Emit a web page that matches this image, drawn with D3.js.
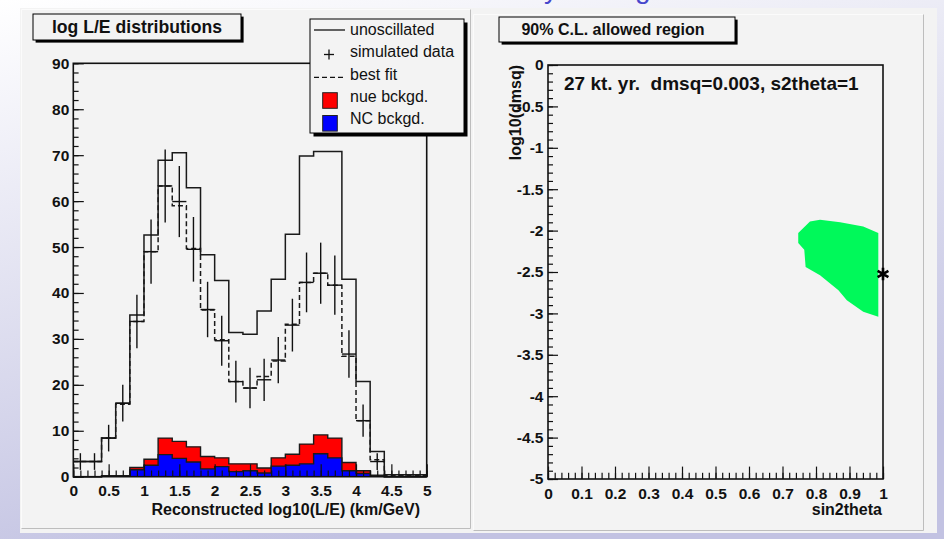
<!DOCTYPE html>
<html>
<head>
<meta charset="utf-8">
<script src="https://cdn.jsdelivr.net/npm/d3@7"></script>
<style>
  html, body { margin: 0; padding: 0; background: #fff; }
  svg { display: block; }
  text { font-family: "Liberation Sans", Arial, Helvetica, sans-serif; }
</style>
</head>
<body>
<svg id="chart" width="944" height="539"></svg>
<script>
// ---- histogram bins: log10(L/E), width 0.2 ----
const binLow = [0, 0.2, 0.4, 0.6, 0.8, 1.0, 1.2, 1.4, 1.6, 1.8, 2.0, 2.2, 2.4,
                2.6, 2.8, 3.0, 3.2, 3.4, 3.6, 3.8, 4.0, 4.2, 4.4, 4.6, 4.8];
const binWidth = 0.2;

// events per bin
const unoscillated = [3.3, 3.3, 8.4, 16.0, 35.2, 52.6, 68.9, 70.5, 62.9, 48.3, 42.7, 31.4, 31.0,
                      36.1, 43.0, 52.8, 69.8, 70.8, 70.8, 43.0, 20.7, 5.5, 0.4, 0.4, 0.4];
const simulatedData = [3.3, 3.3, 8.4, 16.0, 33.8, 49.0, 63.3, 59.9, 49.5, 36.4, 29.6, 20.7, 19.3,
                       21.1, 25.4, 33.0, 42.3, 44.3, 41.7, 26.7, 12.2, 3.3, 0, 0, 0];
const bestFit = [3.3, 3.3, 8.4, 15.8, 33.8, 49.0, 63.3, 59.0, 49.7, 36.3, 29.8, 20.7, 19.3,
                 21.8, 25.2, 33.2, 42.3, 44.3, 41.7, 26.2, 12.2, 3.7, 0.3, 0.3, 0.3];
const nueBckgd = [0, 0, 0, 0, 0.5, 1.3, 3.6, 3.7, 3.3, 2.7, 1.9, 1.7, 1.5,
                  1.1, 1.8, 2.4, 4.3, 4.1, 4.3, 1.8, 0.6, 0.1, 0, 0, 0];
const ncBckgd = [0, 0, 0.2, 0.2, 1.5, 2.5, 4.8, 4.0, 3.2, 1.7, 2.2, 1.1, 1.3,
                 0.8, 2.3, 2.5, 2.8, 5.0, 4.1, 1.3, 0.7, 0.2, 0, 0, 0];

// tick labels
const countTicks = [0, 10, 20, 30, 40, 50, 60, 70, 80, 90];
const leTicks = [0, 0.5, 1, 1.5, 2, 2.5, 3, 3.5, 4, 4.5, 5];
const s2Ticks = [0, 0.1, 0.2, 0.3, 0.4, 0.5, 0.6, 0.7, 0.8, 0.9, 1];
const dmTicks = [0, -0.5, -1, -1.5, -2, -2.5, -3, -3.5, -4, -4.5, -5];

// 90% C.L. contour in (sin2theta, log10(dmsq))
const contourS2 = [0.747, 0.782, 0.812, 0.872, 0.941, 0.986, 0.986, 0.941, 0.892, 0.867, 0.812, 0.769, 0.765, 0.747];
const contourDm = [-2.03, -1.89, -1.87, -1.90, -1.95, -2.03, -3.04, -2.98, -2.84, -2.72, -2.54, -2.44, -2.23, -2.15];

// true oscillation parameters
const exposure = 27;
const trueDmsq = 0.003;
const trueS2theta = 1;

const legendItems = ["unoscillated", "simulated data", "best fit", "nue bckgd.", "NC bckgd."];

// ---------------------------------------------------------------
const svg = d3.select("#chart");
const FONT = "Liberation Sans, Arial, Helvetica, sans-serif";
const INK = "#111";

// slide background
const defs = svg.append("defs");
const bg = defs.append("linearGradient").attr("id", "slideBg")
  .attr("x1", 0).attr("y1", 0).attr("x2", 0.35).attr("y2", 1);
bg.append("stop").attr("offset", 0).attr("stop-color", "#ffffff");
bg.append("stop").attr("offset", 1).attr("stop-color", "#c2c2e2");
svg.append("rect").attr("width", 944).attr("height", 539).attr("fill", "url(#slideBg)");

// fragments of the slide heading above the canvas
const heading = svg.append("g").attr("fill", "#4646cc").attr("font-size", 28);
heading.append("text").attr("x", 544).attr("y", -2).text("y");
heading.append("text").attr("x", 635).attr("y", -2).text("g");

// canvas and pads
svg.append("rect").attr("x", 20).attr("y", 8).attr("width", 917).attr("height", 525)
  .attr("fill", "#f3f3f3");
function padBorder(x0, y0, x1, y1) {
  svg.append("path").attr("d", `M${x0},${y1}V${y0}H${x1}`).attr("fill", "none")
    .attr("stroke", "#fbfbfb").attr("stroke-width", 1);
  svg.append("path").attr("d", `M${x0},${y1}H${x1}V${y0}`).attr("fill", "none")
    .attr("stroke", "#bdbdbd").attr("stroke-width", 1);
}
padBorder(21.5, 9.5, 470.5, 528.5);
padBorder(473.5, 14.5, 923.5, 530.5);

// helpers
function fmt(v) { return String(+v.toFixed(2)); }

function drawAxis(g, axis, cls) {
  g.call(axis);
  g.select(".domain").remove();
  g.selectAll(".tick line").attr("stroke", INK).attr("stroke-width", 1.2);
  g.selectAll(".tick text").attr("fill", INK).attr("font-weight", "bold")
    .attr("font-family", FONT);
}

function pave(x, y, w, h, shadow) {
  svg.append("rect").attr("x", x + shadow).attr("y", y + shadow)
    .attr("width", w).attr("height", h).attr("fill", "#000");
  svg.append("rect").attr("x", x).attr("y", y).attr("width", w).attr("height", h)
    .attr("fill", "#f3f3f3").attr("stroke", "#000").attr("stroke-width", 1);
}

// ================= left pad: log L/E distributions =================
const xL = d3.scaleLinear().domain([0, 5]).range([73.3, 426.7]);
const yL = d3.scaleLinear().domain([0, 90]).range([476.7, 63.3]);

function stepPoints(values) {
  const pts = [];
  values.forEach((v, i) => {
    pts.push([binLow[i], v]);
    pts.push([binLow[i] + binWidth, v]);
  });
  return pts;
}
const lineL = d3.line().x(d => xL(d[0])).y(d => yL(d[1]));
const areaL = d3.area().x(d => xL(d[0])).y0(yL(0)).y1(d => yL(d[1]));

const stackTotal = nueBckgd.map((v, i) => v + ncBckgd[i]);

function filledHist(values, color) {
  const pts = stepPoints(values);
  svg.append("path").datum(pts).attr("d", areaL).attr("fill", color);
  const outline = [[0, 0]].concat(pts, [[5, 0]]);
  svg.append("path").datum(outline).attr("d", lineL).attr("fill", "none")
    .attr("stroke", "#1a1a1a").attr("stroke-width", 1.4);
}
filledHist(stackTotal, "#ff0000");
filledHist(ncBckgd, "#0000ff");

// unoscillated
svg.append("path").datum(stepPoints(unoscillated)).attr("d", lineL)
  .attr("fill", "none").attr("stroke", "#1a1a1a").attr("stroke-width", 1.5);
// best fit
svg.append("path").datum(stepPoints(bestFit)).attr("d", lineL)
  .attr("fill", "none").attr("stroke", "#1a1a1a").attr("stroke-width", 1.5)
  .attr("stroke-dasharray", "5,3");

// simulated data with Poisson errors
const dataG = svg.append("g").attr("stroke", "#111").attr("stroke-width", 1.4);
simulatedData.forEach((v, i) => {
  if (v <= 0) return;
  const xc = binLow[i] + binWidth / 2;
  const err = Math.sqrt(v);
  dataG.append("line").attr("x1", xL(binLow[i])).attr("x2", xL(binLow[i] + binWidth))
    .attr("y1", yL(v)).attr("y2", yL(v));
  dataG.append("line").attr("x1", xL(xc)).attr("x2", xL(xc))
    .attr("y1", yL(Math.max(0, v - err))).attr("y2", yL(v + err));
});

// frame
svg.append("rect").attr("x", xL(0)).attr("y", yL(90))
  .attr("width", xL(5) - xL(0)).attr("height", yL(0) - yL(90))
  .attr("fill", "none").attr("stroke", INK).attr("stroke-width", 1.6);

// axes (ticks point into the frame)
drawAxis(svg.append("g").attr("transform", `translate(${xL(0)},0)`),
  d3.axisLeft(yL).tickValues(countTicks).tickFormat(fmt).tickSize(-10.5).tickPadding(4), "yl");
drawAxis(svg.append("g").attr("transform", `translate(${xL(0)},0)`),
  d3.axisLeft(yL).tickValues(d3.range(0, 90.01, 2)).tickFormat("").tickSize(-5.3), "yl2");
drawAxis(svg.append("g").attr("transform", `translate(0,${yL(0)})`),
  d3.axisBottom(xL).tickValues(leTicks).tickFormat(fmt).tickSize(-12.4).tickPadding(8.5), "xl");
drawAxis(svg.append("g").attr("transform", `translate(0,${yL(0)})`),
  d3.axisBottom(xL).tickValues(d3.range(0, 5.001, 0.1)).tickFormat("").tickSize(-6.2), "xl2");
svg.selectAll("g .tick text").attr("font-size", 15.5);

svg.append("text").attr("x", 420).attr("y", 515).attr("text-anchor", "end")
  .attr("font-weight", "bold").attr("font-size", 16).attr("fill", INK)
  .text("Reconstructed log10(L/E) (km/GeV)");

// title pave
pave(33, 14, 208, 26, 2.6);
svg.append("text").attr("x", 137).attr("y", 33.3).attr("text-anchor", "middle")
  .attr("font-weight", "bold").attr("font-size", 17.6).attr("fill", INK)
  .text("log L/E distributions");

// legend
pave(310, 19, 154, 114, 3.5);
const legRowY = [35, 56.7, 79.8, 101.7, 124];
const leg = svg.append("g");
legendItems.forEach((t, i) => {
  leg.append("text").attr("x", 350).attr("y", legRowY[i]).attr("font-size", 16)
    .attr("fill", INK).text(t);
});
leg.append("line").attr("x1", 314).attr("x2", 345).attr("y1", 30).attr("y2", 30)
  .attr("stroke", INK).attr("stroke-width", 1.3);
leg.append("line").attr("x1", 324).attr("x2", 334).attr("y1", 54.5).attr("y2", 54.5)
  .attr("stroke", INK).attr("stroke-width", 1.3);
leg.append("line").attr("x1", 329).attr("x2", 329).attr("y1", 49.5).attr("y2", 59.5)
  .attr("stroke", INK).attr("stroke-width", 1.3);
leg.append("line").attr("x1", 314).attr("x2", 345).attr("y1", 77.3).attr("y2", 77.3)
  .attr("stroke", INK).attr("stroke-width", 1.3).attr("stroke-dasharray", "5,3");
leg.append("rect").attr("x", 322.7).attr("y", 92.7).attr("width", 14.6).attr("height", 15.6)
  .attr("fill", "#ff0000").attr("stroke", "#222").attr("stroke-width", 1);
leg.append("rect").attr("x", 322.7).attr("y", 115.5).attr("width", 14.6).attr("height", 15.6)
  .attr("fill", "#0000ff").attr("stroke", "#222").attr("stroke-width", 1);

// ================= right pad: 90% C.L. allowed region =================
const xR = d3.scaleLinear().domain([0, 1]).range([548, 883]);
const yR = d3.scaleLinear().domain([-5, 0]).range([479, 65]);

const contour = contourS2.map((s, i) => [s, contourDm[i]]);
svg.append("path").datum(contour)
  .attr("d", d3.line().x(d => xR(d[0])).y(d => yR(d[1])).curve(d3.curveLinearClosed))
  .attr("fill", "#00f95a").attr("stroke", "none");

svg.append("rect").attr("x", xR(0)).attr("y", yR(0))
  .attr("width", xR(1) - xR(0)).attr("height", yR(-5) - yR(0))
  .attr("fill", "none").attr("stroke", INK).attr("stroke-width", 1.6);

const gy = svg.append("g").attr("transform", `translate(${xR(0)},0)`);
drawAxis(gy, d3.axisLeft(yR).tickValues(dmTicks).tickFormat(fmt).tickSize(-10).tickPadding(4.5));
drawAxis(svg.append("g").attr("transform", `translate(${xR(0)},0)`),
  d3.axisLeft(yR).tickValues(d3.range(-5, 0.001, 0.1)).tickFormat("").tickSize(-5));
drawAxis(svg.append("g").attr("transform", `translate(0,${yR(-5)})`),
  d3.axisBottom(xR).tickValues(s2Ticks).tickFormat(fmt).tickSize(-12.4).tickPadding(8.5));
drawAxis(svg.append("g").attr("transform", `translate(0,${yR(-5)})`),
  d3.axisBottom(xR).tickValues(d3.range(0, 1.0001, 0.02)).tickFormat("").tickSize(-6.2));
svg.selectAll("g .tick text").attr("font-size", 15.5);

svg.append("text").attr("x", 882).attr("y", 515).attr("text-anchor", "end")
  .attr("font-weight", "bold").attr("font-size", 16).attr("fill", INK).text("sin2theta");
svg.append("text").attr("transform", `translate(521,${yR(0)}) rotate(-90)`)
  .attr("text-anchor", "end").attr("font-weight", "bold").attr("font-size", 16)
  .attr("fill", INK).text("log10(dmsq)");

// true point
svg.append("path")
  .attr("transform", `translate(${xR(trueS2theta)},${yR(Math.log10(trueDmsq))})`)
  .attr("d", d3.symbol(d3.symbolAsterisk, 110)())
  .attr("fill", "none").attr("stroke", "#000").attr("stroke-width", 2.6);

svg.append("text").attr("x", 564).attr("y", 90).attr("font-weight", "bold")
  .attr("font-size", 19).attr("fill", INK).style("white-space", "pre")
  .text(`${exposure} kt. yr.  dmsq=${trueDmsq}, s2theta=${trueS2theta}`);

pave(499, 17, 236, 25, 2.6);
svg.append("text").attr("x", 613).attr("y", 35).attr("text-anchor", "middle")
  .attr("font-weight", "bold").attr("font-size", 16).attr("fill", INK)
  .text("90% C.L. allowed region");
</script>
</body>
</html>
